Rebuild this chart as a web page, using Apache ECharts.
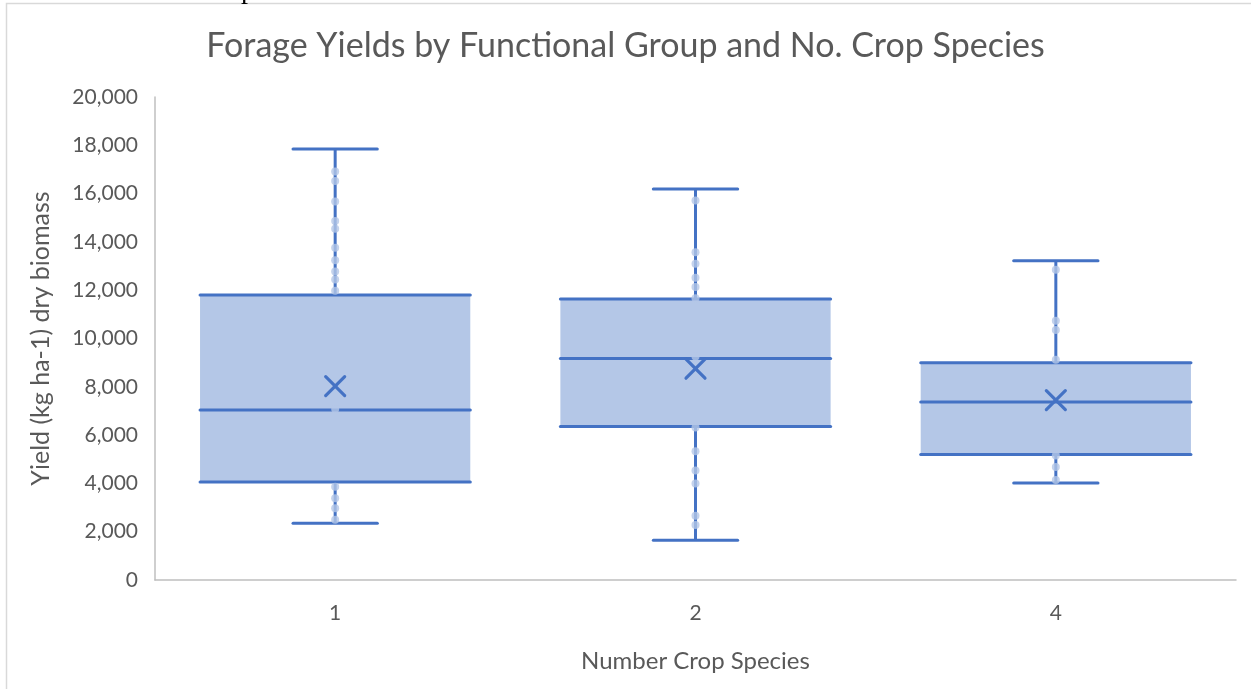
<!DOCTYPE html>
<html>
<head>
<meta charset="utf-8">
<title>Forage Yields</title>
<script src="https://cdn.jsdelivr.net/npm/echarts@6/dist/echarts.min.js"></script>
<style>
  html, body { margin: 0; padding: 0; background: #fff; }
  #chart { width: 1251px; height: 689px; }
</style>
</head>
<body>
<div id="chart"></div>
<script>
  // values
  var categories = ['1', '2', '4']
  var whiskerMin = [2350, 1650, 4020]
  var q1 = [4060, 6360, 5200]
  var median = [7040, 9170, 7370]
  var q3 = [11800, 11640, 9000]
  var whiskerMax = [17850, 16190, 13220]
  var means = [8030, 8750, 7450]
  var innerPoints1 = [16910, 16520, 15670, 14870, 14540, 13760, 13240, 12770, 12440, 11980, 7080, 3860, 3380, 2970, 2490]
  var innerPoints2 = [15710, 13570, 13100, 12520, 12130, 11670, 9250, 6310, 5330, 4530, 4000, 2660, 2280]
  var innerPoints4 = [12850, 10740, 10350, 9120, 5160, 4680, 4140]
  var yTicks = [0, 2000, 4000, 6000, 8000, 10000, 12000, 14000, 16000, 18000, 20000]

  var lineColor = '#4472C4'
  var fillColor = '#B4C7E7'
  var textColor = '#595959'

  var boxData = []
  for (var i = 0; i < categories.length; i++) {
    boxData.push([i, whiskerMin[i], q1[i], median[i], q3[i], whiskerMax[i], means[i]])
  }

  var pointData = []
  var allInner = [innerPoints1, innerPoints2, innerPoints4]
  for (var c = 0; c < allInner.length; c++) {
    for (var k = 0; k < allInner[c].length; k++) {
      pointData.push([c, allInner[c][k]])
    }
  }

  function hLine (x1, x2, y) {
    return {
      type: 'line',
      shape: {x1: x1, y1: y, x2: x2, y2: y},
      style: {stroke: lineColor, lineWidth: 3, lineCap: 'round'}
    }
  }

  function renderBox (params, api) {
    var idx = api.value(0)
    var band = api.size([1, 0])[0]
    var half = band * 0.375
    var cap = band * 0.117
    var pMin = api.coord([idx, api.value(1)])
    var pQ1 = api.coord([idx, api.value(2)])
    var pMed = api.coord([idx, api.value(3)])
    var pQ3 = api.coord([idx, api.value(4)])
    var pMax = api.coord([idx, api.value(5)])
    var pMean = api.coord([idx, api.value(6)])
    var x = pMed[0]
    var m = 9.5
    return {
      type: 'group',
      children: [
        {
          type: 'rect',
          shape: {x: x - half, y: pQ3[1], width: half * 2, height: pQ1[1] - pQ3[1]},
          style: {fill: fillColor}
        },
        {
          type: 'line',
          shape: {x1: x, y1: pQ3[1], x2: x, y2: pMax[1]},
          style: {stroke: lineColor, lineWidth: 3}
        },
        {
          type: 'line',
          shape: {x1: x, y1: pQ1[1], x2: x, y2: pMin[1]},
          style: {stroke: lineColor, lineWidth: 3}
        },
        hLine(x - cap, x + cap, pMax[1]),
        hLine(x - cap, x + cap, pMin[1]),
        hLine(x - half, x + half, pQ3[1]),
        hLine(x - half, x + half, pMed[1]),
        hLine(x - half, x + half, pQ1[1]),
        {
          type: 'line',
          z2: 20,
          shape: {x1: x - m, y1: pMean[1] - m, x2: x + m, y2: pMean[1] + m},
          style: {stroke: lineColor, lineWidth: 3.2, lineCap: 'round'}
        },
        {
          type: 'line',
          z2: 20,
          shape: {x1: x - m, y1: pMean[1] + m, x2: x + m, y2: pMean[1] - m},
          style: {stroke: lineColor, lineWidth: 3.2, lineCap: 'round'}
        }
      ]
    }
  }

  var chart = echarts.init(document.getElementById('chart'))
  chart.setOption({
    backgroundColor: '#ffffff',
    animation: false,
    textStyle: {fontFamily: 'Lato'},
    title: {
      text: 'Forage Yields by Functional Group and No. Crop Species',
      left: 'center',
      top: 24,
      textStyle: {color: textColor, fontSize: 34, fontWeight: 'normal', fontFamily: 'Lato'}
    },
    graphic: [
      {
        type: 'rect',
        silent: true,
        shape: {x: 6.5, y: 3.5, width: 1400, height: 800},
        style: {fill: 'none', stroke: '#d9d9d9', lineWidth: 1.5}
      },
      {
        // bit of the page text cut off above the chart
        type: 'text',
        silent: true,
        style: {
          text: 'p', x: 241, y: 5, verticalAlign: 'bottom',
          font: '28px "Liberation Serif"', fill: '#000'
        }
      }
    ],
    grid: {left: 155, right: 15, top: 97, bottom: 109},
    xAxis: {
      type: 'category',
      data: categories,
      name: 'Number Crop Species',
      nameLocation: 'middle',
      nameGap: 69,
      nameTextStyle: {color: textColor, fontSize: 24},
      axisLine: {lineStyle: {color: '#bfbfbf', width: 1.5}},
      axisTick: {show: false},
      axisLabel: {color: textColor, fontSize: 21, margin: 23},
      splitLine: {show: false}
    },
    yAxis: {
      type: 'value',
      min: 0,
      max: 20000,
      interval: 2000,
      name: 'Yield (kg ha-1) dry biomass',
      nameLocation: 'middle',
      nameGap: 102,
      nameTextStyle: {color: textColor, fontSize: 25},
      axisLine: {show: true, lineStyle: {color: '#bfbfbf', width: 1.5}},
      axisTick: {show: false},
      axisLabel: {
        color: textColor,
        fontSize: 21,
        margin: 17,
        formatter: function (v) {
          return yTicks.indexOf(v) >= 0 ? v.toLocaleString('en-US') : ''
        }
      },
      splitLine: {show: false}
    },
    series: [
      {
        type: 'custom',
        renderItem: renderBox,
        encode: {x: 0, y: [1, 2, 3, 4, 5, 6]},
        data: boxData,
        z: 2
      },
      {
        type: 'scatter',
        data: pointData,
        symbol: 'circle',
        symbolSize: 8,
        itemStyle: {color: fillColor},
        z: 3
      }
    ]
  })
</script>
</body>
</html>
